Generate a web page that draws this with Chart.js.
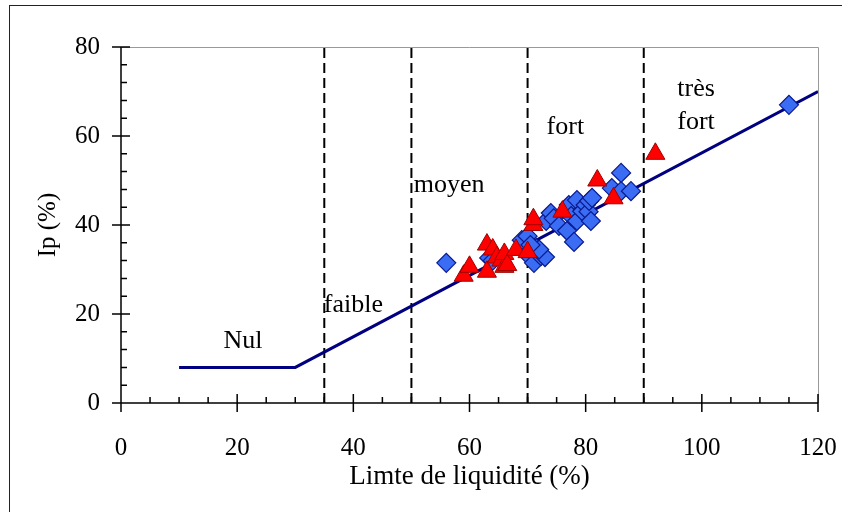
<!DOCTYPE html>
<html>
<head>
<meta charset="utf-8">
<script src="https://cdn.jsdelivr.net/npm/chart.js@4.4.1/dist/chart.umd.min.js"></script>
<style>
  body { margin: 0; background: #fff; }
  #wrap { position: relative; width: 842px; height: 512px; }
</style>
</head>
<body>
<div id="wrap"><canvas id="chartIp" width="842" height="512"></canvas></div>
<script>
// Casagrande-type line (LL, Ip)
const ligneX = [10, 30, 120];
const ligneY = [8, 8, 70];

// zone limits on liquid limit
const limitesZones = [35, 50, 70, 90];

// zone names and where they sit (data units)
const nomsZones = ['Nul', 'faible', 'moyen', 'fort', ['très', 'fort']];
const zonesLL = [21, 40, 56.5, 76.5, 99];
const zonesIp = [14, 22, 49, 62, 63];

// blue diamonds
const bleuLL = [56, 63.4, 64, 69, 70, 70.6, 71.1, 71.5, 72.3, 73, 72, 70.5, 73.2, 74, 74.5, 75.4,
  76.8, 77.1, 77.5, 78, 78.5, 78.5, 79.4, 80, 80.5, 80.9, 80.6, 81.1, 84.5, 86.1, 86.1, 87.8, 115];
const bleuIp = [31.5, 32.6, 32, 36.6, 37.5, 32.6, 31.5, 34.8, 33, 32.8, 34.5, 35.5, 40.9, 42.7, 41.5, 39.8,
  38.7, 44.5, 42, 36.2, 40.9, 45.6, 43.1, 44.5, 43, 40.9, 45.4, 46.1, 48.3, 47.6, 51.7, 47.6, 67];

// red triangles
const rougeLL = [59, 60, 63, 63, 64, 64.7, 65.5, 66, 66, 66.5, 68, 70, 71, 71, 76, 82, 84.8, 92];
const rougeIp = [28.6, 30.6, 29.5, 35.6, 34.5, 32.7, 32, 30.6, 33.5, 31, 34.4, 33.9, 40, 41.3, 43, 50, 46, 56];

const police = 'Liberation Serif, Times New Roman, serif';

function points(xs, ys) {
    return xs.map(function (x, i) { return { x: x, y: ys[i] }; });
}

const datasets = [
    {
        label: 'rouge',
        type: 'scatter',
        data: points(rougeLL, rougeIp),
        pointStyle: 'triangle',
        pointRadius: 11,
        backgroundColor: '#ff0000',
        borderColor: '#a00000',
        borderWidth: 1
    },
    {
        label: 'bleu',
        type: 'scatter',
        data: points(bleuLL, bleuIp),
        pointStyle: 'rectRot',
        pointRadius: 9.5,
        backgroundColor: '#3a6cf4',
        borderColor: '#0a1a8c',
        borderWidth: 1.2
    },
    {
        label: 'ligne',
        type: 'line',
        data: points(ligneX, ligneY),
        borderColor: '#000080',
        borderWidth: 3,
        pointRadius: 0,
        tension: 0
    }
];

limitesZones.forEach(function (ll) {
    datasets.push({
        label: 'limite ' + ll,
        type: 'line',
        data: [{ x: ll, y: 0 }, { x: ll, y: 80 }],
        borderColor: '#000',
        borderWidth: 2,
        borderDash: [10, 5],
        pointRadius: 0
    });
});

// frame, axes and tick marks drawn on the chart's own scales
const cadrePlugin = {
    id: 'cadre',
    beforeDatasetsDraw(chart) {
        const ctx = chart.ctx;
        const a = chart.chartArea;
        const sx = chart.scales.x, sy = chart.scales.y;
        ctx.save();
        ctx.lineWidth = 1;
        ctx.strokeStyle = '#222';
        ctx.strokeRect(9.5, 5.5, 1000, 1000);

        ctx.strokeStyle = '#999';
        ctx.beginPath();
        ctx.moveTo(a.left, a.top + 0.5);
        ctx.lineTo(a.right + 0.5, a.top + 0.5);
        ctx.lineTo(a.right + 0.5, a.bottom);
        ctx.stroke();

        ctx.strokeStyle = '#000';
        ctx.lineWidth = 1.5;
        ctx.beginPath();
        ctx.moveTo(a.left, a.top);
        ctx.lineTo(a.left, a.bottom);
        ctx.lineTo(a.right, a.bottom);
        for (let v = 0; v <= 120; v += 5) {
            const px = sx.getPixelForValue(v);
            const major = v % 20 === 0;
            ctx.moveTo(px, a.bottom + (major ? 9 : 0));
            ctx.lineTo(px, a.bottom - (major ? 9 : 6));
        }
        for (let v = 0; v <= 80; v += 4) {
            const py = sy.getPixelForValue(v);
            const major = v % 20 === 0;
            ctx.moveTo(a.left - (major ? 9 : 0), py);
            ctx.lineTo(a.left + (major ? 9 : 6), py);
        }
        ctx.stroke();
        ctx.restore();
    },
    afterDatasetsDraw(chart) {
        const ctx = chart.ctx;
        const sx = chart.scales.x, sy = chart.scales.y;
        ctx.save();
        ctx.fillStyle = '#000';
        ctx.font = '26px ' + police;
        ctx.textAlign = 'center';
        ctx.textBaseline = 'middle';
        nomsZones.forEach(function (nom, i) {
            const px = sx.getPixelForValue(zonesLL[i]);
            const py = sy.getPixelForValue(zonesIp[i]);
            if (Array.isArray(nom)) {
                ctx.fillText(nom[0], px, py - 33);
                ctx.fillText(nom[1], px, py);
            } else {
                ctx.fillText(nom, px, py);
            }
        });
        ctx.restore();
    }
};

const config = {
    type: 'scatter',
    data: { datasets: datasets },
    options: {
        responsive: false,
        animation: false,
        layout: { padding: { top: 47, right: 24, left: 0, bottom: 0 } },
        plugins: {
            legend: { display: false },
            tooltip: { enabled: false },
            title: { display: false }
        },
        scales: {
            x: {
                type: 'linear',
                min: 0,
                max: 120,
                grid: { display: false, drawTicks: false },
                border: { display: false },
                ticks: { stepSize: 20, color: '#000', font: { family: police, size: 25 }, padding: 30 },
                title: {
                    display: true,
                    text: 'Limte de liquidité (%)',
                    color: '#000',
                    font: { family: police, size: 27 },
                    padding: { top: 0, bottom: 19 }
                },
                afterFit: function (s) {
                    s.height = 109;
                    s.paddingLeft = 0;
                    s.paddingRight = 0;
                }
            },
            y: {
                type: 'linear',
                min: 0,
                max: 80,
                grid: { display: false, drawTicks: false },
                border: { display: false },
                ticks: { stepSize: 20, color: '#000', font: { family: police, size: 25 }, padding: 21 },
                title: {
                    display: true,
                    text: 'Ip (%)',
                    color: '#000',
                    font: { family: police, size: 25 },
                    padding: { top: 33, bottom: 0 }
                },
                afterFit: function (s) {
                    s.width = 121;
                    s.paddingTop = 0;
                    s.paddingBottom = 0;
                }
            }
        }
    },
    plugins: [cadrePlugin]
};

const myChart = new Chart(document.getElementById('chartIp'), config);
</script>
</body>
</html>
